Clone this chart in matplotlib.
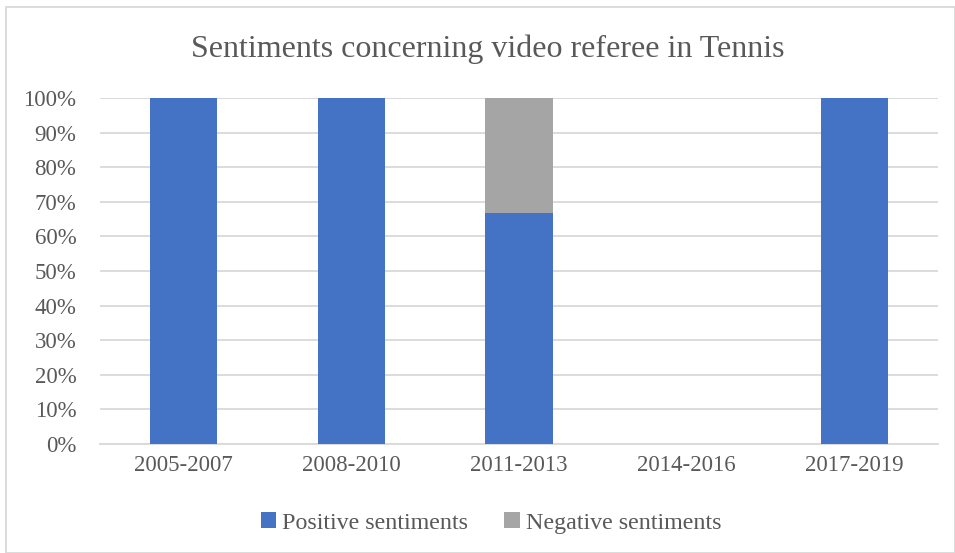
import matplotlib.pyplot as plt
from matplotlib.ticker import PercentFormatter
import numpy as np

periodos = ['2005-2007', '2008-2010', '2011-2013', '2014-2016', '2017-2019']
positivos = [100, 100, 66.67, 0, 100]
negativos = [0, 0, 33.33, 0, 0]

plt.rcParams['font.family'] = ['Liberation Serif', 'DejaVu Serif']

fig = plt.figure(figsize=(9.55, 5.53), dpi=100)
ax = fig.add_axes([100 / 955, 1 - 444 / 553, 838 / 955, 346 / 553])

x = np.arange(len(periodos))
ax.bar(x, positivos, width=0.4, color='#4472C4', label='Positive sentiments', zorder=3)
ax.bar(x, negativos, width=0.4, bottom=positivos, color='#A5A5A5',
       label='Negative sentiments', zorder=3)

ax.set_xlim(-0.5, len(periodos) - 0.5)
ax.set_ylim(0, 100)
ax.set_yticks(np.arange(0, 101, 10))
ax.yaxis.set_major_formatter(PercentFormatter(decimals=0))
ax.set_xticks(x)
ax.set_xticklabels(periodos)
ax.tick_params(axis='both', length=0, labelsize=16.5, colors='#595959')
ax.tick_params(axis='x', pad=8)
ax.tick_params(axis='y', pad=17)
ax.grid(axis='y', color='#d9d9d9', linewidth=1.3, zorder=0)
for s in ['top', 'right', 'left']:
    ax.spines[s].set_visible(False)
ax.spines['bottom'].set_color('#d9d9d9')
ax.spines['bottom'].set_linewidth(1.3)

fig.text(487.5 / 955, 1 - 49 / 553, 'Sentiments concerning video referee in Tennis',
         ha='center', va='center', fontsize=23, color='#595959')

ax.legend(loc='center', bbox_to_anchor=((491 - 100) / 838, (444 - 523) / 346),
          ncol=2, frameon=False, fontsize=17.3, handlelength=0.65, handleheight=0.65,
          handletextpad=0.25, columnspacing=1.5, labelcolor='#595959')

fig.patches.append(plt.Rectangle((6 / 955, 0.5 / 553), 948.5 / 955, 546 / 553,
                                 transform=fig.transFigure, fill=False,
                                 edgecolor='#d9d9d9', linewidth=1.3))

fig.savefig('out.png', dpi=100)
